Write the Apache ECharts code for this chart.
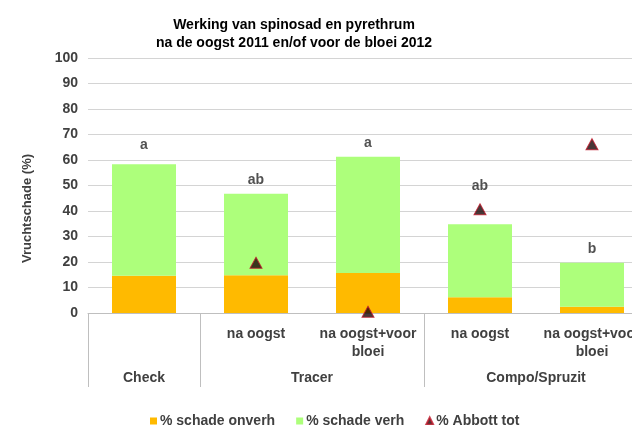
<!DOCTYPE html>
<html>
<head>
<meta charset="utf-8">
<script src="https://cdn.jsdelivr.net/npm/echarts@6/dist/echarts.min.js"></script>
<style>
  html, body { margin: 0; padding: 0; background: #fff; overflow: hidden; }
  /* the original plot runs past the right edge of the picture */
  #chart { width: 648px; height: 425px; }
</style>
</head>
<body>
<div id="chart"></div>
<script>
// inner categories (level 1) and groups (level 2)
var categories = ['', 'na oogst', 'na oogst+voor\nbloei', 'na oogst', 'na oogst+voor\nbloei'];
var groups = ['Check', 'Tracer', 'Compo/Spruzit'];
var groupSpans = [1, 2, 2];

var schadeOnverh = [14.6, 14.8, 15.7, 6.2, 2.5];
var schadeVerh = [43.7, 32.0, 45.6, 28.6, 17.2];   // stacked on top of onverh
var abbottTot = [null, 19.7, 0.5, 40.7, 66.2];

var letters = ['a', 'ab', 'a', 'ab', 'b'];
var letterY = [65.9, 52.2, 66.7, 49.8, 25.2];

var yTicks = [0, 10, 20, 30, 40, 50, 60, 70, 80, 90, 100];

// group boundaries and centres on a 0..5 scale
var bounds = [0], centres = [];
groupSpans.forEach(function (s, i) {
	var start = bounds[i];
	bounds.push(start + s);
	centres.push(start + s / 2);
});

var font = 'Liberation Sans, Arial, sans-serif';
var textCol = '#404040';

var chart = echarts.init(document.getElementById('chart'));

var option = {
	animation: false,
	title: {
		text: 'Werking van spinosad en pyrethrum\nna de oogst 2011 en/of voor de bloei 2012',
		left: 289,
		top: 11,
		textAlign: 'center',
		textStyle: {
			fontFamily: font,
			fontSize: 14,
			fontWeight: 'bold',
			color: '#000',
			lineHeight: 18
		}
	},
	legend: {
		left: 145,
		top: 409,
		itemWidth: 7,
		itemHeight: 7,
		itemGap: 21,
		textStyle: { fontFamily: font, fontSize: 14, fontWeight: 'bold', color: textCol, padding: [0, 0, 0, -2] },
		data: [
			{ name: '% schade onverh', icon: 'rect' },
			{ name: '% schade verh', icon: 'rect' },
			{ name: '% Abbott tot', icon: 'triangle' }
		]
	},
	grid: {
		left: 88,
		top: 58,
		bottom: 112,
		right: 0
	},
	xAxis: [{
		type: 'category',
		position: 'bottom',
		data: categories,
		axisLine: { show: true, lineStyle: { color: '#bfbfbf', width: 1 } },
		axisTick: { show: false },
		axisLabel: {
			interval: 0,
			margin: 12,
			fontFamily: font,
			fontSize: 14,
			fontWeight: 'bold',
			color: textCol,
			lineHeight: 18
		}
	}, {
		type: 'value',
		position: 'bottom',
		min: 0,
		max: 5,
		axisLine: { show: false },
		splitLine: { show: false },
		axisTick: {
			show: true,
			customValues: bounds,
			length: 74,
			lineStyle: { color: '#bfbfbf', width: 1 }
		},
		axisLabel: {
			customValues: centres,
			margin: 58,
			fontFamily: font,
			fontSize: 14,
			fontWeight: 'bold',
			color: textCol,
			formatter: function (v) {
				var i = centres.indexOf(v);
				return i >= 0 ? groups[i] : '';
			}
		}
	}],
	yAxis: {
		type: 'value',
		min: 0,
		max: 100,
		interval: 10,
		name: 'Vruchtschade (%)',
		nameLocation: 'middle',
		nameGap: 54,
		nameTextStyle: {
			fontFamily: font,
			fontSize: 13,
			fontWeight: 'bold',
			color: textCol,
			padding: [0, 46, 0, 0]
		},
		axisLine: { show: false },
		axisTick: { show: false },
		splitLine: { lineStyle: { color: '#d4d4d4', width: 1 } },
		axisLabel: {
			margin: 10,
			fontFamily: font,
			fontSize: 14,
			fontWeight: 'bold',
			color: textCol,
			customValues: yTicks
		}
	},
	series: [{
		name: '% schade onverh',
		type: 'bar',
		stack: 'schade',
		barWidth: 64,
		itemStyle: { color: '#FFBA00' },
		data: schadeOnverh
	}, {
		name: '% schade verh',
		type: 'bar',
		stack: 'schade',
		barWidth: 64,
		itemStyle: { color: '#ADFF7B' },
		data: schadeVerh
	}, {
		name: '% Abbott tot',
		type: 'scatter',
		symbol: 'triangle',
		symbolSize: [12, 11],
		itemStyle: { color: '#1a0505', borderColor: '#c0182a', borderWidth: 1 },
		z: 5,
		data: abbottTot
	}, {
		name: 'letters',
		type: 'scatter',
		symbolSize: 0,
		itemStyle: { color: 'rgba(0,0,0,0)' },
		silent: true,
		z: 6,
		label: {
			show: true,
			position: 'inside',
			fontFamily: font,
			fontSize: 14,
			fontWeight: 'bold',
			color: '#262626',
			formatter: function (p) { return letters[p.dataIndex]; }
		},
		data: letterY
	}]
};

chart.setOption(option);
</script>
</body>
</html>
